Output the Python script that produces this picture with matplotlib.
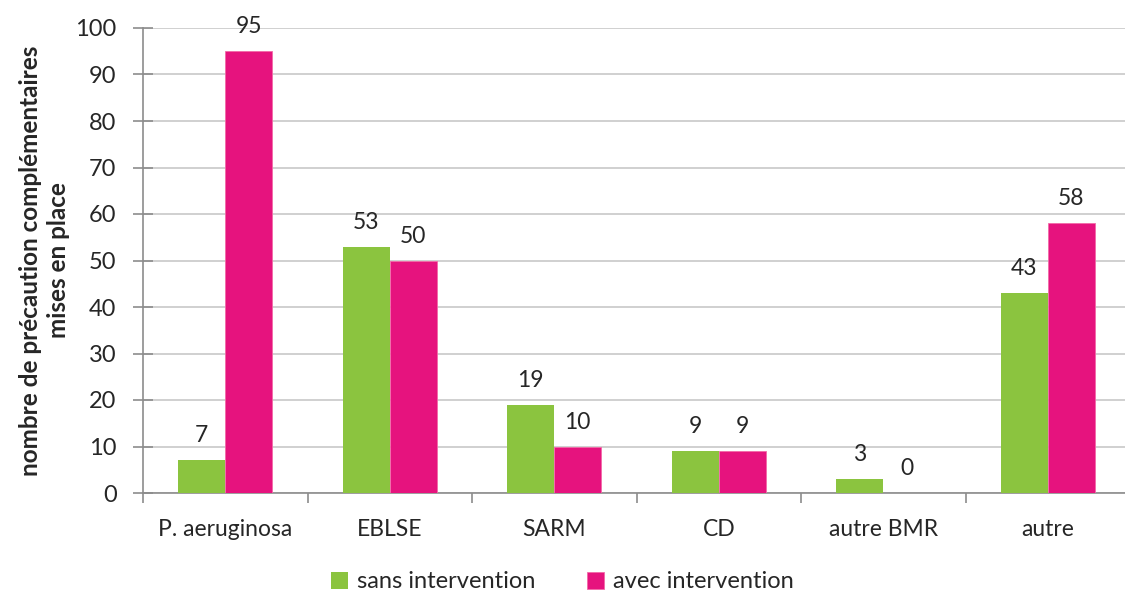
import numpy as np
import matplotlib.pyplot as plt

plt.rcParams['font.family'] = ['Lato', 'DejaVu Sans']

categories = ['P. aeruginosa', 'EBLSE', 'SARM', 'CD', 'autre BMR', 'autre']
sans_intervention = [7, 53, 19, 9, 3, 43]
avec_intervention = [95, 50, 10, 9, 0, 58]

green = '#8bc43f'
pink = '#e6137e'
text_col = '#262626'

fig = plt.figure(figsize=(11.25, 5.95), dpi=100)
# axes run slightly past the right edge of the figure
ax = fig.add_axes([143 / 1125, 1 - 493 / 595, 987 / 1125, 465 / 595])

x = np.arange(len(categories))
w = 0.285
b1 = ax.bar(x - w / 2, sans_intervention, w, color=green, label='sans intervention', zorder=3)
b2 = ax.bar(x + w / 2, avec_intervention, w, color=pink, edgecolor='#f26aa8', linewidth=0.6,
            label='avec intervention', zorder=3)

for bars, vals in ((b1, sans_intervention), (b2, avec_intervention)):
    for r, v in zip(bars, vals):
        ax.text(r.get_x() + r.get_width() / 2, v + 3.0, str(v), ha='center', va='bottom',
                fontsize=16.5, color=text_col)

ax.set_xlim(-0.5, len(categories) - 0.5)
ax.set_ylim(0, 100)
ax.set_yticks(range(0, 101, 10))
ax.yaxis.grid(True, color='#c8c8c8', linewidth=1.2, zorder=0)
ax.set_axisbelow(True)

ax.set_xticks(x)
ax.set_xticklabels(categories)
ax.set_xticks(np.arange(-0.5, len(categories), 1), minor=True)
ax.tick_params(axis='x', which='major', length=0, pad=19, labelsize=16.5, labelcolor=text_col)
ax.tick_params(axis='x', which='minor', length=7, width=1.2, color='#8c8c8c', direction='out')
ax.tick_params(axis='y', length=14, width=1.2, color='#8c8c8c', direction='inout',
               labelsize=17, labelcolor=text_col, pad=12)

for s in ('top', 'right'):
    ax.spines[s].set_visible(False)
for s in ('left', 'bottom'):
    ax.spines[s].set_color('#8c8c8c')
    ax.spines[s].set_linewidth(1.2)

ax.set_ylabel('nombre de précaution complémentaires\nmises en place', fontsize=17.5,
              fontweight='bold', color=text_col, labelpad=4, linespacing=1.25)

fig.legend(handles=[b1, b2], loc='center', bbox_to_anchor=(0.5, 1 - 582 / 595), ncol=2,
           frameon=False, fontsize=17, handlelength=0.7, handleheight=0.7,
           columnspacing=2.2, handletextpad=0.4, labelcolor=text_col)

fig.savefig('out.png', dpi=100)
